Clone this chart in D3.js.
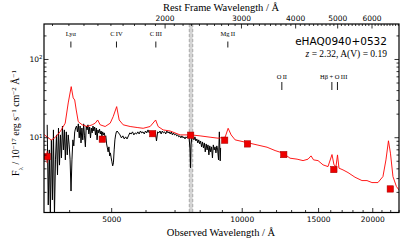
<!DOCTYPE html>
<html>
<head>
<meta charset="utf-8">
<script src="https://cdn.jsdelivr.net/npm/d3@7/dist/d3.min.js"></script>
<style>
body { margin: 0; background: #fff; }
svg { display: block; }
.tick line { stroke: #000; stroke-width: 0.8; }
</style>
</head>
<body>
<div id="chart"></div>
<script>
// observed spectrum, wavelength in A, flux in 1e-17 erg/s/cm2/A
var specWave = [3560, 3580, 3600, 3620, 3640, 3660, 3680, 3700, 3720, 3740, 3760, 3780, 3800, 3820, 3840, 3860, 3880, 3900, 3920, 3940,
  3960, 3980, 4000, 4020, 4040, 4060, 4080, 4100, 4120, 4140, 4160, 4180, 4200, 4220, 4240, 4260, 4280, 4300, 4320, 4340,
  4360, 4380, 4400, 4420, 4440, 4460, 4480, 4500, 4520, 4540, 4560, 4580, 4600, 4620, 4640, 4660, 4680, 4700, 4720, 4740,
  4760, 4780, 4800, 4820, 4840, 4860, 4880, 4900, 4920, 4940, 4960, 4980, 5000, 5020, 5040, 5060, 5080, 5100, 5120, 5140,
  5160, 5200, 5240, 5280, 5320, 5360, 5400, 5440, 5480, 5520, 5560, 5600, 5640, 5680, 5720, 5760, 5800, 5840, 5880, 5920,
  5960, 6000, 6040, 6080, 6120, 6160, 6200, 6240, 6280, 6320, 6360, 6400, 6440, 6480, 6520, 6560, 6600, 6640, 6680, 6720,
  6760, 6800, 6840, 6880, 6920, 6960, 7000, 7040, 7080, 7120, 7160, 7200, 7240, 7280, 7320, 7360, 7400, 7440, 7480, 7520,
  7560, 7600, 7620, 7640, 7680, 7720, 7760, 7800, 7840, 7880, 7920, 7960, 8000, 8040, 8080, 8120, 8160, 8200, 8240, 8280,
  8320, 8360, 8400, 8440, 8480, 8520, 8560, 8600, 8640, 8680, 8720, 8760, 8800, 8840, 8880, 8920, 8940];
var specFlux = [14.4, 1.36, 6.88, 1.0, 9.24, 1.58, 12.4, 1.0, 5.13, 10.7, 3.3, 13.1, 4.4, 10.7, 5.44, 13.9, 6.88, 12.4, 5.13, 11.7,
  5.94, 10.7, 7.97, 5.13, 2.05, 5.13, 9.24, 7.74, 11.7, 13.1, 13.9, 11.7, 14.8, 9.8, 13.9, 8.45, 13.1, 9.24, 14.8, 10.4,
  7.52, 13.9, 12.4, 14.4, 11.0, 13.5, 9.8, 13.1, 11.35, 13.9, 12.0, 13.5, 10.7, 13.1, 9.24, 12.4, 11.35, 12.7, 11.0, 12.0,
  10.4, 11.7, 10.7, 11.35, 10.1, 10.4, 8.2, 7.3, 6.49, 7.52, 5.77, 6.3, 5.44, 4.84, 4.3, 4.7, 6.88, 9.24, 10.7, 11.7,
  12.0, 11.35, 10.7, 9.8, 10.4, 9.5, 10.1, 9.5, 10.4, 11.35, 11.0, 11.7, 10.7, 11.35, 11.0, 11.7, 11.0, 12.0, 11.35, 11.7,
  11.0, 12.0, 11.35, 12.4, 11.35, 12.0, 11.0, 12.0, 11.35, 11.7, 8.95, 11.7, 11.35, 12.0, 11.0, 12.0, 11.35, 11.7, 11.0, 12.0,
  11.35, 11.7, 11.0, 11.7, 10.7, 11.35, 10.7, 11.0, 10.4, 10.7, 10.1, 10.4, 9.8, 10.4, 9.8, 10.1, 9.5, 10.1, 9.8, 10.4,
  10.1, 6.88, 4.06, 7.97, 10.4, 9.8, 9.24, 10.1, 8.95, 9.5, 8.45, 9.24, 8.2, 8.95, 7.52, 8.7, 7.3, 8.45, 6.49, 8.2,
  6.88, 7.97, 5.94, 7.74, 6.49, 7.52, 5.44, 7.97, 6.88, 7.52, 6.3, 7.74, 6.88, 5.13, 11.7, 4.98, 7.3];

// quasar template fitted to the photometry
var modelWave = [3504, 3580, 3640, 3720, 3815, 3917, 3980, 4044, 4087, 4120, 4153, 4198, 4287, 4402, 4521, 4593, 4654, 4717, 4843, 4974,
  5053, 5148, 5217, 5329, 5530, 5739, 5925, 6149, 6331, 6416, 6588, 6838, 7210, 7643, 8016, 8453, 8822, 9157, 9304, 9453,
  9656, 10291, 10850, 11439, 11937, 12454, 12925, 13416, 13849, 14220, 14449, 14643, 14997, 15400, 15811, 16150, 16322, 16496, 16629, 16760,
  17122, 17582, 18245, 18933, 19446, 19968, 20613, 21167, 21506, 21795, 22027, 22322, 22738, 23044];
var modelFlux = [10.8, 9.8, 9.2, 10.0, 11.8, 15.1, 27.4, 44.3, 31.8, 29.9, 22.3, 15.8, 14.4, 13.7, 14.4, 15.1, 16.6, 14.4, 13.7, 15.1,
  18.3, 24.6, 16.6, 14.4, 13.7, 13.3, 13.0, 13.7, 16.6, 13.7, 12.4, 12.0, 10.7, 10.7, 10.4, 10.0, 9.71, 10.0, 13.0, 10.7,
  9.24, 8.53, 7.97, 7.45, 6.75, 6.25, 5.39, 5.24, 5.02, 5.24, 5.77, 5.13, 5.02, 4.43, 4.21, 6.0, 4.43, 4.21, 5.94, 4.02,
  3.82, 3.53, 3.08, 2.79, 2.79, 2.63, 2.63, 3.14, 5.13, 9.0, 6.25, 3.14, 2.34, 2.12];

// SDSS ugriz + UKIDSS YJHK
var photWave = [3557, 4770, 6231, 7625, 9134, 10310, 12500, 16310, 22010];
var photFlux = [5.65, 9.43, 11.1, 10.6, 9.15, 8.21, 6.0, 3.86, 2.18];
var photErr = [0.95, 0.3, 0.15, 0.15, 0.2, 0.15, 0.1, 0.1, 0.08];

var lineNames = ["Ly\u03b1", "C\u2009IV", "C\u2009III", "Mg\u2009II", "O\u2009II", "H\u03b2 + O\u2009III"];
var lineRest = [[1216], [1549], [1909], [2798], [3727], [4861, 5007]];

var obsTicks = [5000, 10000, 15000, 20000];
var restTicks = [2000, 3000, 4000, 5000, 6000];
var fluxTicks = [10, 100];
var fluxMinor = [2, 3, 4, 5, 6, 7, 8, 9, 20, 30, 40, 50, 60, 70, 80, 90, 200];

var objName = "eHAQ0940+0532";
var redshift = 2.32;
var extinction = 0.19;
var telluric = [7570, 7710];

const WIDTH = 407;
const HEIGHT = 242;
const LEFT = 44, RIGHT = 399, TOP = 24, BOTTOM = 212.5;

var sans = "DejaVu Sans, sans-serif";
var serif = "Liberation Serif, Times New Roman, serif";

var x = d3.scaleLog().domain([3500, 23050]).range([LEFT, RIGHT]);
var xRest = d3.scaleLog().domain([3500 / (1 + redshift), 23050 / (1 + redshift)]).range([LEFT, RIGHT]);
var y = d3.scaleLog().domain([1.09, 280]).range([BOTTOM, TOP]);

var svg = d3.select('#chart').append('svg')
  .attr('width', WIDTH)
  .attr('height', HEIGHT);

svg.append('defs').append('clipPath').attr('id', 'plot-clip')
  .append('rect')
  .attr('x', LEFT).attr('y', TOP)
  .attr('width', RIGHT - LEFT).attr('height', BOTTOM - TOP);

var plot = svg.append('g').attr('clip-path', 'url(#plot-clip)');

// telluric band
plot.append('rect')
  .attr('x', x(telluric[0]))
  .attr('y', TOP)
  .attr('width', x(telluric[1]) - x(telluric[0]))
  .attr('height', BOTTOM - TOP)
  .attr('fill', '#d4d4d4');
telluric.forEach(function(w){
  plot.append('line')
    .attr('x1', x(w)).attr('x2', x(w))
    .attr('y1', TOP).attr('y2', BOTTOM)
    .attr('stroke', '#a8a8a8')
    .attr('stroke-width', 1)
    .attr('stroke-dasharray', '3,2');
});

var line = d3.line()
  .x(function(d){ return x(d[0]); })
  .y(function(d){ return y(d[1]); });

plot.append('path')
  .attr('d', line(d3.zip(specWave, specFlux)))
  .attr('fill', 'none')
  .attr('stroke', '#000')
  .attr('stroke-width', 1)
  .attr('stroke-linejoin', 'round');

plot.append('path')
  .attr('d', line(d3.zip(modelWave, modelFlux)))
  .attr('fill', 'none')
  .attr('stroke', '#ff0000')
  .attr('stroke-width', 0.9)
  .attr('stroke-linejoin', 'round');

var phot = d3.zip(photWave, photFlux, photErr);
plot.selectAll('.err').data(phot).enter().append('line')
  .attr('x1', function(d){ return x(d[0]); })
  .attr('x2', function(d){ return x(d[0]); })
  .attr('y1', function(d){ return y(d[1] + d[2]); })
  .attr('y2', function(d){ return y(d[1] - d[2]); })
  .attr('stroke', '#ff0000')
  .attr('stroke-width', 1);
plot.selectAll('.phot').data(phot).enter().append('rect')
  .attr('x', function(d){ return x(d[0]) - 3.2; })
  .attr('y', function(d){ return y(d[1]) - 3.2; })
  .attr('width', 6.4).attr('height', 6.4)
  .attr('fill', '#ee0000')
  .attr('stroke', '#a00000')
  .attr('stroke-width', 0.5);

// emission line markers
lineNames.forEach(function(name, i){
  var rest = lineRest[i];
  var lower = rest[0] > 3000;
  var labelY = lower ? 78.5 : 35.5;
  var tickY = lower ? 82 : 41.5;
  var tickLen = lower ? 8 : 6;
  var xs = rest.map(function(r){ return x(r * (1 + redshift)); });
  svg.append('text')
    .attr('x', d3.mean(xs) + (xs.length > 1 ? -1 : 0))
    .attr('y', labelY)
    .attr('text-anchor', 'middle')
    .attr('font-family', serif)
    .attr('font-size', 6.5)
    .text(name);
  xs.forEach(function(px){
    svg.append('line')
      .attr('x1', px).attr('x2', px)
      .attr('y1', tickY).attr('y2', tickY + tickLen)
      .attr('stroke', '#000')
      .attr('stroke-width', 0.9);
  });
});

// axes
var minorObs = d3.range(4000, 23001, 1000).filter(function(v){ return obsTicks.indexOf(v) < 0; });
var minorRest = d3.range(1100, 6901, 100).filter(function(v){ return restTicks.indexOf(v) < 0; });

var styleAxis = function(g){
  g.select('.domain').remove();
  g.selectAll('text').attr('font-family', sans).attr('font-size', 7.5).attr('fill', '#000');
};

svg.append('g').attr('transform', 'translate(0,' + BOTTOM + ')')
  .call(d3.axisBottom(x).tickValues(obsTicks).tickFormat(d3.format('d')).tickSize(-4.5).tickPadding(4.5))
  .call(styleAxis);
svg.append('g').attr('transform', 'translate(0,' + BOTTOM + ')')
  .call(d3.axisBottom(x).tickValues(minorObs).tickFormat('').tickSize(-2.5))
  .call(styleAxis);

svg.append('g').attr('transform', 'translate(0,' + TOP + ')')
  .call(d3.axisTop(xRest).tickValues(restTicks).tickFormat(d3.format('d')).tickSize(-4.5).tickPadding(3.5))
  .call(styleAxis);
svg.append('g').attr('transform', 'translate(0,' + TOP + ')')
  .call(d3.axisTop(xRest).tickValues(minorRest).tickFormat('').tickSize(-2))
  .call(styleAxis);

var yMajor = svg.append('g').attr('transform', 'translate(' + LEFT + ',0)')
  .call(d3.axisLeft(y).tickValues(fluxTicks).tickSize(-4.5).tickPadding(1.5))
  .call(styleAxis);
yMajor.selectAll('text').each(function(d){
  var t = d3.select(this).text('10');
  t.append('tspan').attr('dy', '-0.45em').attr('font-size', 5.5).text(Math.round(Math.log10(d)));
});
svg.append('g').attr('transform', 'translate(' + LEFT + ',0)')
  .call(d3.axisLeft(y).tickValues(fluxMinor).tickFormat('').tickSize(-2.5))
  .call(styleAxis);
svg.append('g').attr('transform', 'translate(' + RIGHT + ',0)')
  .call(d3.axisRight(y).tickValues(fluxTicks).tickFormat('').tickSize(-4.5))
  .call(styleAxis);
svg.append('g').attr('transform', 'translate(' + RIGHT + ',0)')
  .call(d3.axisRight(y).tickValues(fluxMinor).tickFormat('').tickSize(-2.5))
  .call(styleAxis);

// frame
svg.append('rect')
  .attr('x', LEFT).attr('y', TOP)
  .attr('width', RIGHT - LEFT).attr('height', BOTTOM - TOP)
  .attr('fill', 'none')
  .attr('stroke', '#000')
  .attr('stroke-width', 1.2);

// titles
svg.append('text')
  .attr('x', 221).attr('y', 11)
  .attr('text-anchor', 'middle')
  .attr('font-family', serif).attr('font-size', 10.5)
  .text('Rest Frame Wavelength / \u00c5');
svg.append('text')
  .attr('x', 221).attr('y', 235.5)
  .attr('text-anchor', 'middle')
  .attr('font-family', serif).attr('font-size', 10.5)
  .text('Observed Wavelength / \u00c5');

var ylab = svg.append('text')
  .attr('transform', 'translate(19,123) rotate(-90)')
  .attr('text-anchor', 'middle')
  .attr('font-family', serif).attr('font-size', 10);
var pieces = [['F', 0], ['\u03bb', 1], [' / 10', 0], ['\u221217', -1], [' erg s', 0], ['\u22121', -1],
  [' cm', 0], ['\u22122', -1], [' \u00c5', 0], ['\u22121', -1]];
var shift = 0;
pieces.forEach(function(p){
  var target = p[1] * 3.5;
  ylab.append('tspan')
    .attr('dy', target - shift)
    .attr('font-size', p[1] === 0 ? 10 : 7)
    .text(p[0]);
  shift = target;
});

// object annotation
svg.append('text')
  .attr('x', 387).attr('y', 45)
  .attr('text-anchor', 'end')
  .attr('font-family', sans).attr('font-size', 10.5)
  .text(objName);
var ann = svg.append('text')
  .attr('x', 387).attr('y', 57)
  .attr('text-anchor', 'end')
  .attr('font-family', serif).attr('font-size', 9.5);
ann.append('tspan').attr('font-style', 'italic').text('z');
ann.append('tspan').text(' = ' + redshift.toFixed(2) + ',  A(V) = ' + extinction.toFixed(2));
</script>
</body>
</html>
